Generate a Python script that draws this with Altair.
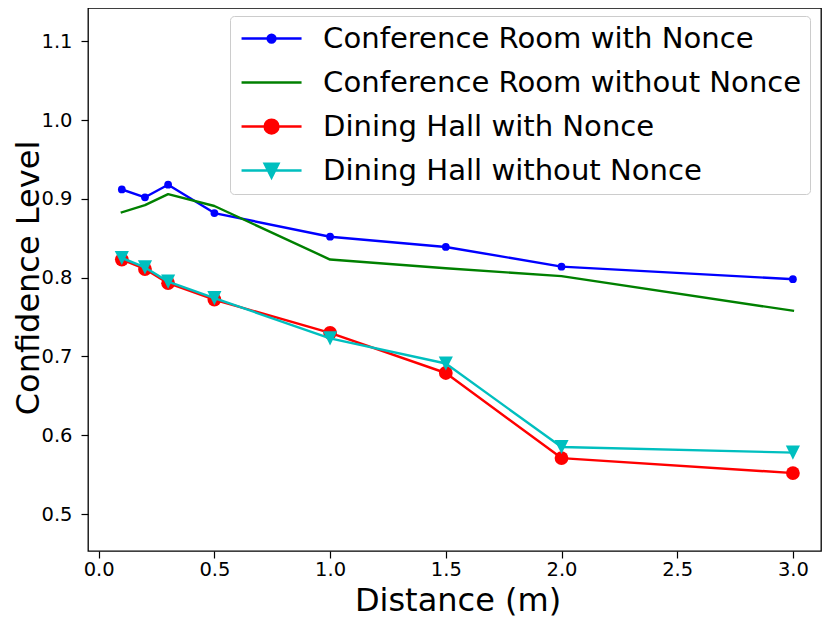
import altair as alt
import pandas as pd

distance = [0.1, 0.2, 0.3, 0.5, 1.0, 1.5, 2.0, 3.0]
conf_with = [0.912, 0.902, 0.918, 0.882, 0.852, 0.839, 0.814, 0.798]
conf_without = [0.883, 0.892, 0.906, 0.891, 0.823, 0.812, 0.802, 0.758]
dining_with = [0.823, 0.811, 0.793, 0.772, 0.730, 0.679, 0.571, 0.552]
dining_without = [0.825, 0.813, 0.795, 0.774, 0.723, 0.691, 0.585, 0.578]

series_names = [
    "Conference Room with Nonce",
    "Conference Room without Nonce",
    "Dining Hall with Nonce",
    "Dining Hall without Nonce",
]
series_values = [conf_with, conf_without, dining_with, dining_without]
colors = ["#0000ff", "#008000", "#ff0000", "#00bfbf"]
x_ticks = [0.0, 0.5, 1.0, 1.5, 2.0, 2.5, 3.0]
y_ticks = [0.5, 0.6, 0.7, 0.8, 0.9, 1.0, 1.1]

frames = []
for name, vals in zip(series_names, series_values):
    frames.append(pd.DataFrame({"distance": distance, "level": vals, "series": name}))
df = pd.concat(frames, ignore_index=True)

FONT = "DejaVu Sans"
W, H = 733, 543

xscale = alt.Scale(domain=[-0.0462, 3.1214], nice=False, zero=False)
yscale = alt.Scale(domain=[0.45305, 1.1423], nice=False, zero=False)

xaxis = alt.Axis(values=x_ticks, format=".1f", title="Distance (m)", grid=False,
                 domain=False, tickSize=7, tickWidth=1.2, tickColor="black",
                 labelFont=FONT, labelFontSize=19.5, labelColor="black",
                 labelBaseline="alphabetic", labelPadding=17,
                 titleFont=FONT, titleFontSize=32, titleFontWeight="normal", titleColor="black",
                 titleX=369.5, titleY=59, titleBaseline="alphabetic")
yaxis = alt.Axis(values=y_ticks, format=".1f", title="Confidence Level", grid=False,
                 domain=False, tickSize=7, tickWidth=1.2, tickColor="black",
                 labelFont=FONT, labelFontSize=19.5, labelColor="black", labelPadding=9,
                 titleFont=FONT, titleFontSize=32, titleFontWeight="normal", titleColor="black",
                 titleX=-50, titleY=269.5, titleBaseline="alphabetic")

legend_paths = [
    "M-2.5,0L2.5,0M-0.33,0A0.33,0.33 0 1,0 0.33,0A0.33,0.33 0 1,0 -0.33,0Z",
    "M-2.5,0L2.5,0",
    "M-2.5,0L2.5,0M-0.58,0A0.58,0.58 0 1,0 0.58,0A0.58,0.58 0 1,0 -0.58,0Z",
    "M-2.5,0L2.5,0M-0.58,-0.58L0.58,-0.58L0,0.58Z",
]
cscale = alt.Scale(domain=series_names, range=colors)
sscale = alt.Scale(domain=series_names, range=legend_paths)

legend = alt.Legend(
    orient="none", legendX=142, legendY=8, title=None,
    labelFont=FONT, labelFontSize=29.1, labelColor="black", labelLimit=700,
    symbolSize=576, symbolStrokeWidth=2.4, symbolOffset=19, labelOffset=37,
    symbolOpacity=1, rowPadding=14, padding=8,
    strokeColor="#cccccc", fillColor="rgba(255,255,255,0.8)", cornerRadius=4,
)

markers = {
    "Conference Room with Nonce": ("circle", 60),
    "Dining Hall with Nonce": ("circle", 190),
    "Dining Hall without Nonce": ("M-1,-1L1,-1L0,1Z", 200),
}

X = alt.X("distance:Q", scale=xscale, axis=xaxis)
Y = alt.Y("level:Q", scale=yscale, axis=yaxis)

layers = []
for name, col in zip(series_names, colors):
    base = alt.Chart(df).transform_filter(alt.datum.series == name)
    line = base.mark_line(color=col, strokeWidth=2.4, strokeJoin="round",
                          strokeCap="square").encode(x=X, y=Y)
    layers.append(line)
    if name in markers:
        shp, sz = markers[name]
        pts = base.mark_point(filled=True, shape=shp, size=sz, color=col,
                              opacity=1).encode(x=X, y=Y)
        layers.append(pts)

# legend-only layer: no rows pass the filter, entries come from the scale domains
legend_layer = alt.Chart(df).transform_filter("false").mark_point(
    filled=True, strokeWidth=2.4, opacity=1
).encode(
    x=X, y=Y,
    color=alt.Color("series:N", scale=cscale, legend=legend),
    stroke=alt.Stroke("series:N", scale=cscale, legend=legend),
    shape=alt.Shape("series:N", scale=sscale, legend=legend),
)
layers.append(legend_layer)

chart = alt.layer(*layers).properties(
    width=W, height=H,
    autosize=alt.AutoSizeParams(type="none"),
    padding={"left": 80, "top": 0, "right": 1, "bottom": 67},
    background="white",
).configure_view(stroke="black", strokeWidth=1.3)

chart.save("out.html", embed_options={"renderer": "svg", "actions": False})
